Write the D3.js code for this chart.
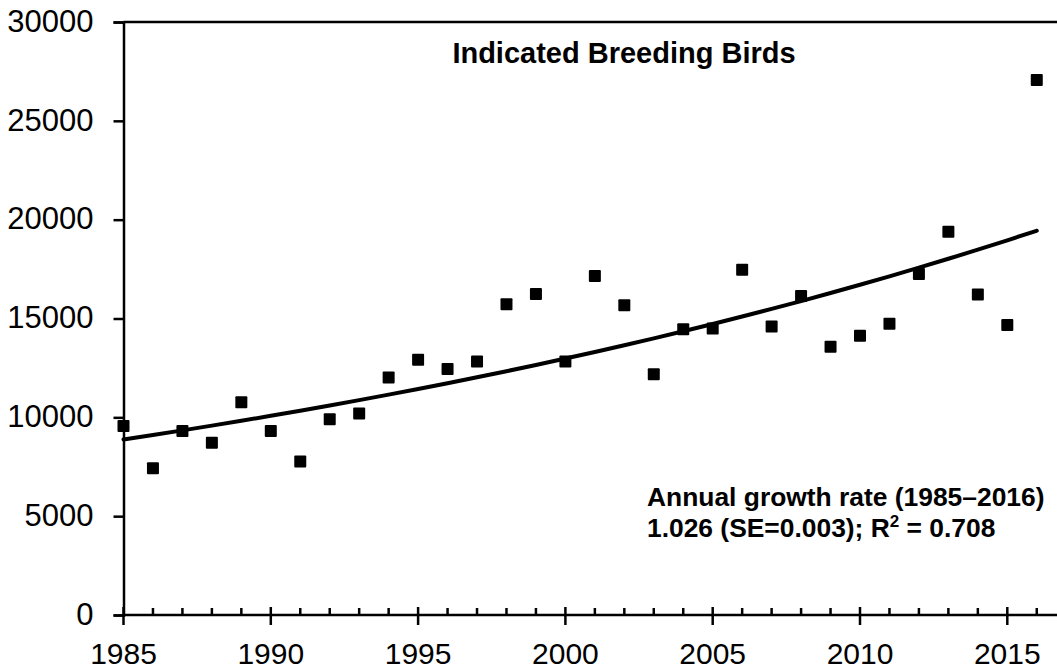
<!DOCTYPE html>
<html>
<head>
<meta charset="utf-8">
<script src="https://cdn.jsdelivr.net/npm/d3@7"></script>
<style>
  html, body { margin: 0; padding: 0; background: #fff; overflow: hidden; }
  svg { display: block; font-family: "Liberation Sans", Arial, sans-serif; }
</style>
</head>
<body>
<svg id="chart" width="1057" height="672"></svg>
<script>
// data
const years = [1985, 1986, 1987, 1988, 1989, 1990, 1991, 1992, 1993, 1994, 1995, 1996,
  1997, 1998, 1999, 2000, 2001, 2002, 2003, 2004, 2005, 2006, 2007, 2008,
  2009, 2010, 2011, 2012, 2013, 2014, 2015, 2016];
const birds = [9560, 7420, 9310, 8720, 10760, 9310, 7760, 9900, 10200, 12020, 12910, 12450,
  12820, 15720, 16240, 12820, 17150, 15670, 12180, 14450, 14500, 17470, 14590, 16140,
  13570, 14130, 14740, 17250, 19390, 16220, 14670, 27060];
const yTicks = [0, 5000, 10000, 15000, 20000, 25000, 30000];
const xMajorTicks = [1985, 1990, 1995, 2000, 2005, 2010, 2015];

// fitted exponential trend (value at 1985, annual rate)
const trendStart = 8880;
const growthRate = 1.0256;

const title = "Indicated Breeding Birds";
const noteLine1 = "Annual growth rate (1985\u20132016)";

const svg = d3.select("#chart");

// plot area runs off the right edge of the picture
const plotLeft = 123.5, plotTop = 22, plotBottom = 615;
const x = d3.scaleLinear().domain([1985, 2017]).range([plotLeft, plotLeft + 32 * 29.46]);
const y = d3.scaleLinear().domain([0, 30000]).range([plotBottom, plotTop]);

const g = svg.append("g");

// top border
g.append("line")
  .attr("x1", plotLeft).attr("x2", x(2017))
  .attr("y1", y(30000)).attr("y2", y(30000))
  .attr("stroke", "#000").attr("stroke-width", 2.5);

// y axis
const yAxis = g.append("g")
  .attr("transform", "translate(" + plotLeft + ",0)")
  .call(d3.axisLeft(y).tickValues(yTicks).tickSize(10).tickPadding(20).tickFormat(d3.format("d")));
yAxis.select(".domain").attr("stroke-width", 2.5);
yAxis.selectAll(".tick line").attr("stroke-width", 2.5);
yAxis.selectAll(".tick text")
  .attr("font-size", 31).attr("font-family", "Liberation Sans, Arial, sans-serif")
  .attr("fill", "#000").attr("dy", "0.3em");

// x axis: minor ticks inside, major ticks crossing
const xAxis = g.append("g");
xAxis.append("line")
  .attr("x1", plotLeft).attr("x2", x(2017))
  .attr("y1", plotBottom).attr("y2", plotBottom)
  .attr("stroke", "#000").attr("stroke-width", 2.5);
xAxis.selectAll(".minor")
  .data(years.filter(d => xMajorTicks.indexOf(d) < 0))
  .enter().append("line")
  .attr("class", "minor")
  .attr("x1", d => x(d)).attr("x2", d => x(d))
  .attr("y1", plotBottom - 7).attr("y2", plotBottom)
  .attr("stroke", "#000").attr("stroke-width", 2.5);
xAxis.selectAll(".major")
  .data(xMajorTicks)
  .enter().append("line")
  .attr("class", "major")
  .attr("x1", d => x(d)).attr("x2", d => x(d))
  .attr("y1", plotBottom - 8).attr("y2", plotBottom + 10)
  .attr("stroke", "#000").attr("stroke-width", 2.5);
xAxis.selectAll(".xlabel")
  .data(xMajorTicks)
  .enter().append("text")
  .attr("class", "xlabel")
  .attr("x", d => x(d)).attr("y", 664)
  .attr("text-anchor", "middle")
  .attr("font-size", 30)
  .text(d => d);

// trend curve
const trend = years.map(d => ({ year: d, value: trendStart * Math.pow(growthRate, d - 1985) }));
const line = d3.line()
  .x(d => x(d.year))
  .y(d => y(d.value))
  .curve(d3.curveMonotoneX);
g.append("path")
  .datum(trend)
  .attr("fill", "none")
  .attr("stroke", "#000")
  .attr("stroke-width", 4)
  .attr("stroke-linecap", "round")
  .attr("d", line);

// square markers
const size = 12;
g.selectAll(".pt")
  .data(years.map((d, i) => ({ year: d, value: birds[i] })))
  .enter().append("rect")
  .attr("class", "pt")
  .attr("x", d => x(d.year) - size / 2)
  .attr("y", d => y(d.value) - size / 2)
  .attr("width", size).attr("height", size)
  .attr("rx", 1)
  .attr("fill", "#000");

// title
g.append("text")
  .attr("x", 624).attr("y", 63)
  .attr("text-anchor", "middle")
  .attr("font-size", 29).attr("font-weight", "bold")
  .text(title);

// growth-rate note
const note = g.append("text")
  .attr("font-size", 26.4).attr("font-weight", "bold");
note.append("tspan").attr("x", 647).attr("y", 506).text(noteLine1);
const l2 = note.append("tspan").attr("x", 647).attr("y", 537);
l2.text("1.026 (SE=0.003); R");
note.append("tspan").attr("font-size", 17).attr("dy", -10).text("2");
note.append("tspan").attr("dy", 10).text(" = 0.708");
</script>
</body>
</html>
